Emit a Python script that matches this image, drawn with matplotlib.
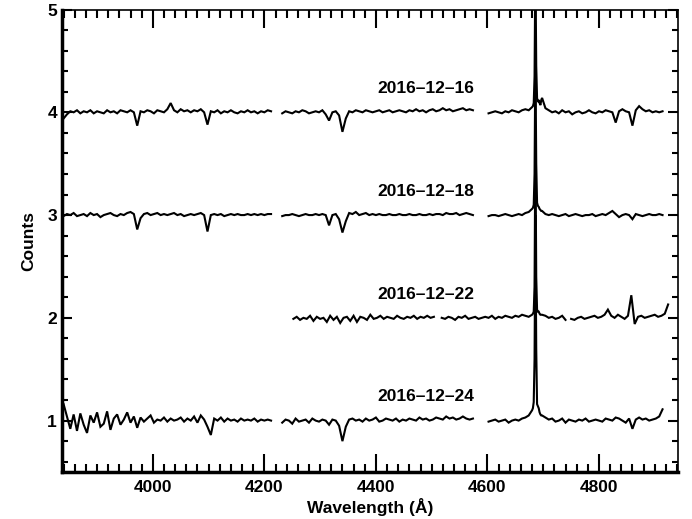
import numpy as np
import matplotlib
matplotlib.use("Agg")
import matplotlib.pyplot as plt
from matplotlib.ticker import MultipleLocator, FixedLocator

plt.rcParams['font.family'] = ['Liberation Sans', 'DejaVu Sans']

# ---------------- data (residuals in units of 0.01 counts) ----------------
dates = ["2016\u201312\u201316", "2016\u201312\u201318", "2016\u201312\u201322", "2016\u201312\u201324"]
offsets = [4, 3, 2, 1]
coarse = 6.0   # Angstrom sampling of the continuum
fine = 1.5     # Angstrom sampling across the He II 4686 line

# 2016-12-16
s16_a = [-6, -2, 1, 0, 2, -1, 1, 0, 2, -1, 1, 0, -1, 2, 0, 1, -1, 2, 1, 0, 2, 0, -13, 1, 0, 2, 1, -1, 2, 1,
         0, 3, 9, 2, 0, 3, 1, 2, 0, 2, 1, 3, 0, -12, 1, 0, 2, -1, 1, 0, 2, 0, -1, 1, 0, 2, 0, 1, -1, 1,
         0, 2, 1]
s16_b = [-1, 1, 0, -1, 1, 0, 2, 1, -1, 0, 1, 0, 2, -2, -8, 0, 1, -3, -19, -6, 1, 0, 2, 1, 0, 2, 1, 0, 1, 2,
         0, 1, 2, 0, 1, 2, 1, 0, 2, 1, 3, 1, 2, 0, 2, 3, 1, 2, 4, 2, 3, 1, 2, 3, 4, 2, 3, 2]
s16_c1 = [-1, 0, 1, 0, -1, 1, 0, 2, 1, 0, 2, 3, 2]
s16_pk = [5, 6, 9, 35, 150, 45, 14, 10, 12, 9, 7, 12, 14]
s16_c2 = [4, 2, 0, 1, -1, 2, 0, 1, -2, 0, 1, -1, 0, 2, 0, -1, 1, 0, 2, 1, 0, -10, 1, 3, 1, 0, -13, 2, 6, 3,
          1, 2, 0, 1, 0, 1]

# 2016-12-18
s18_a = [-1, 1, 0, 2, -1, 0, 1, -1, 2, 0, 1, -2, 0, 1, 2, 0, -1, 1, 0, 2, 3, 1, -14, -3, 1, 2, 0, 1, 2, 0,
         1, 0, 1, 2, 0, 1, -1, 0, 1, 0, 1, 2, 0, -16, 0, 1, 0, 1, -1, 0, 1, 0, 1, 0, 0, 1, 0, 1, 0, 1,
         0, 1, 1]
s18_b = [-1, 0, 0, 1, 0, -1, 0, 1, 0, 0, 1, 0, 1, 0, -10, 0, 1, -4, -17, -6, 2, 1, 3, 0, 1, 2, 0, 1, 0, 1,
         0, 0, 1, 0, 0, 1, 0, 0, 1, 0, 0, 1, 0, 0, 1, 0, 1, 1, 0, 2, 1, 1, 2, 0, 1, 2, 1, 0]
s18_c1 = [-1, 0, 0, -1, 0, 1, 0, -1, 0, 1, 0, 2, 3]
s18_pk = [6, 7, 10, 40, 160, 50, 12, 9, 8, 6, 5, 4, 4]
s18_c2 = [1, 0, 1, 0, -1, 0, 1, -1, 0, 1, 0, -1, 0, 0, 1, -1, 0, 1, 0, 2, 4, 1, -2, 0, 1, 0, -4, 1, 0, -1,
          0, 1, 0, 0, 1, 0]

# 2016-12-22
s22_a = [-1, 1, -2, 0, -1, 2, -3, 1, -1, 0, -4, 2, -2, 1, -5, 0, 1, -3, 2, -4, 1, 0, -2, 3, -1, 0, 2, -1, 1, 0,
         -1, 2, 0, -1, 1, 0, 2, -1, 1, 0, 2, 0, 1]
s22_b1 = [0, -1, 1, 0, -2, 1, 0, 2, -1, 0, 1, -1, 0, 1, 0, 2, -1, 1, 0, 2, 1, 0, 2, 1, 3, 2, 1]
s22_pk = [3, 4, 6, 30, 180, 40, 8, 6, 6, 4, 3, 3, 3]
s22_b2 = [2, 0, 1, -1, 0, 2, -2]
s22_c = [-1, -2, 0, 1, -1, 0, 1, 2, 0, 1, 3, 8, 2, 0, 3, 1, -1, 2, 22, -6, 1, 2, 0, 1, 2, 3, 1, 2, 4, 13]

# 2016-12-24
s24_a = [16, 4, -8, 6, -10, 7, -4, -12, 5, -2, 8, -6, -3, 9, -9, 2, 6, -4, 1, 8, -2, 4, -7, 3, -1, 2, 5, -2, 1, 0,
         3, -1, 2, 0, 1, 3, -1, 2, 0, 4, -2, 5, 1, -6, -14, 2, 0, 3, -1, 2, 0, 1, -1, 2, 0, 1, 0, 2, -1, 1,
         0, 1, 0]
s24_b = [-2, 1, 0, -3, 2, -1, 0, 1, -2, 2, 0, -1, 1, 0, -4, 1, 0, -5, -20, -6, 1, 2, 0, 1, -1, 2, 0, 1, 3, -1,
         0, 2, 1, 0, 2, -1, 1, 0, 2, 1, 0, 3, 1, 2, 0, 1, 3, 2, 1, 4, 2, 3, 1, 2, 4, 2, 1, 2]
s24_c1 = [-1, 0, 1, -1, 0, 1, -2, 0, 1, 0, 2, 3, 5]
s24_pk = [10, 12, 18, 60, 200, 70, 16, 14, 12, 8, 6, 5, 5]
s24_c2 = [3, 1, 2, -1, 0, 2, -2, 1, 0, -1, 1, 0, 2, -1, 0, 1, 0, -1, 2, 1, 0, 3, 2, 0, -2, 2, -8, 1, 3, 1,
          2, 0, 1, 2, 4, 11]

# each spectrum: list of connected segments; each segment: list of (start, step, residuals)
spectra = [
    [[(3840, coarse, s16_a)], [(4232, coarse, s16_b)],
     [(4602, coarse, s16_c1), (4680, fine, s16_pk), (4704, coarse, s16_c2)]],
    [[(3840, coarse, s18_a)], [(4232, coarse, s18_b)],
     [(4602, coarse, s18_c1), (4680, fine, s18_pk), (4704, coarse, s18_c2)]],
    [[(4252, coarse, s22_a)],
     [(4518, coarse, s22_b1), (4680, fine, s22_pk), (4704, coarse, s22_b2)],
     [(4750, coarse, s22_c)]],
    [[(3840, coarse, s24_a)], [(4232, coarse, s24_b)],
     [(4602, coarse, s24_c1), (4680, fine, s24_pk), (4704, coarse, s24_c2)]],
]

x_major = [4000, 4200, 4400, 4600, 4800]
y_major = [1, 2, 3, 4, 5]
label_x = 4490
label_dy = 0.23

# ---------------- figure ----------------
fig = plt.figure(figsize=(6.92, 5.19), dpi=100)
ax = fig.add_axes([0.0903, 0.0906, 0.8897, 0.891])

for segs, off, date in zip(spectra, offsets, dates):
    for seg in segs:
        w = np.concatenate([st + sp * np.arange(len(r)) for st, sp, r in seg])
        f = off + np.concatenate([np.array(r, float) for _, _, r in seg]) / 100.0
        ax.plot(w, f, color='black', lw=1.5, solid_joinstyle='miter')
    ax.text(label_x, off + label_dy, date, ha='center', va='center', fontsize=12.5,
            fontweight='bold', color='black')

ax.set_xlim(3838, 4942)
ax.set_ylim(0.5, 5.0)
ax.xaxis.set_major_locator(FixedLocator(x_major))
ax.xaxis.set_minor_locator(MultipleLocator(20))
ax.yaxis.set_major_locator(FixedLocator(y_major))
ax.yaxis.set_minor_locator(MultipleLocator(0.2))
ax.set_xticklabels([str(v) for v in x_major])
ax.set_yticklabels([str(v) for v in y_major])

ax.tick_params(axis='both', which='both', direction='in', top=True, right=True,
               width=1.5, labelsize=12.5, colors='black')
ax.tick_params(axis='x', which='major', length=13, pad=6)
ax.tick_params(axis='x', which='minor', length=6)
ax.tick_params(axis='y', which='major', length=7, pad=4)
ax.tick_params(axis='y', which='minor', length=4)
for lab in ax.get_xticklabels() + ax.get_yticklabels():
    lab.set_fontweight('bold')

for side in ['left', 'bottom']:
    ax.spines[side].set_linewidth(2.5)
for side in ['top', 'right']:
    ax.spines[side].set_linewidth(1.2)

ax.set_xlabel('Wavelength (\u00c5)', fontsize=12.5, fontweight='bold', labelpad=2)
ax.set_ylabel('Counts', fontsize=12.5, fontweight='bold', labelpad=8)

fig.savefig('out.png', dpi=100)
